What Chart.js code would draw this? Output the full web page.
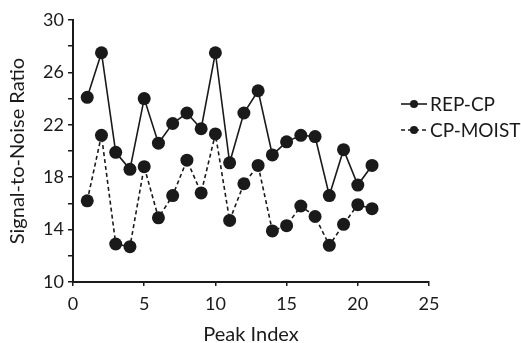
<!DOCTYPE html>
<html>
<head>
<meta charset="utf-8">
<script src="https://cdn.jsdelivr.net/npm/chart.js@4/dist/chart.umd.min.js"></script>
<style>
  html, body { margin: 0; padding: 0; background: #fff; }
  #wrap { width: 521px; height: 343px; }
</style>
</head>
<body>
<div id="wrap"><canvas id="snrChart"></canvas></div>
<script>
// peak index 1..21
const peaks = [1, 2, 3, 4, 5, 6, 7, 8, 9, 10, 11, 12, 13, 14, 15, 16, 17, 18, 19, 20, 21];
const repCp = [24.1, 27.5, 19.9, 18.6, 24.0, 20.6, 22.1, 22.9, 21.7, 27.5, 19.1, 22.9, 24.6, 19.7, 20.7, 21.2, 21.1, 16.6, 20.1, 17.4, 18.9];
const cpMoist = [16.2, 21.2, 12.9, 12.7, 18.8, 14.9, 16.6, 19.3, 16.8, 21.3, 14.7, 17.5, 18.9, 13.9, 14.3, 15.8, 15.0, 12.8, 14.4, 15.9, 15.6];
const seriesNames = ['REP-CP', 'CP-MOIST'];
const yLabelTicks = [10, 14, 18, 22, 26, 30];

const FONT = "Lato, 'Open Sans', sans-serif";
const INK = '#1a1a1a';

// legend drawn by hand: short line + dot, then the name
const lineLegend = {
    id: 'lineLegend',
    afterDraw(chart) {
        const ctx = chart.ctx;
        const area = chart.chartArea;
        const x0 = area.right - 28;
        let y = area.top + 84;
        chart.data.datasets.forEach(ds => {
            ctx.save();
            ctx.strokeStyle = INK;
            ctx.lineWidth = 1.6;
            ctx.setLineDash(ds.borderDash || []);
            ctx.beginPath();
            ctx.moveTo(x0, y);
            ctx.lineTo(x0 + 26, y);
            ctx.stroke();
            ctx.setLineDash([]);
            ctx.fillStyle = INK;
            ctx.beginPath();
            ctx.arc(x0 + 13, y, 4, 0, Math.PI * 2);
            ctx.fill();
            ctx.font = '19px ' + FONT;
            ctx.textBaseline = 'middle';
            ctx.fillText(ds.label, x0 + 29, y + 1);
            ctx.restore();
            y += 26;
        });
    }
};

new Chart(document.getElementById('snrChart'), {
    type: 'line',
    data: {
        datasets: [
            {
                label: seriesNames[0],
                data: peaks.map((p, i) => ({ x: p, y: repCp[i] })),
                borderColor: INK,
                backgroundColor: INK,
                borderWidth: 1.6,
                pointRadius: 6.5,
                pointBorderWidth: 0,
                tension: 0
            },
            {
                label: seriesNames[1],
                data: peaks.map((p, i) => ({ x: p, y: cpMoist[i] })),
                borderColor: INK,
                backgroundColor: INK,
                borderWidth: 1.6,
                borderDash: [4, 3],
                pointRadius: 6.5,
                pointBorderWidth: 0,
                tension: 0
            }
        ]
    },
    options: {
        responsive: true,
        maintainAspectRatio: false,
        animation: false,
        layout: { padding: { top: 20, right: 92, left: 0, bottom: 0 } },
        plugins: { legend: { display: false }, tooltip: { enabled: false } },
        scales: {
            x: {
                type: 'linear',
                min: 0,
                max: 25,
                ticks: { stepSize: 5, color: INK, font: { family: FONT, size: 18 }, padding: 7 },
                grid: { drawOnChartArea: false, tickLength: 4, color: INK, lineWidth: 1.5 },
                border: { color: INK, width: 2 },
                title: { display: true, text: 'Peak Index', color: INK, font: { family: FONT, size: 20 }, padding: { top: 4, bottom: -4 } },
                afterFit: scale => { scale.height = 61; }
            },
            y: {
                min: 10,
                max: 30,
                ticks: {
                    stepSize: 2,
                    color: INK,
                    font: { family: FONT, size: 18 },
                    padding: 4,
                    autoSkip: false,
                    callback: v => yLabelTicks.includes(v) ? v : ''
                },
                grid: { drawOnChartArea: false, tickLength: 5, color: INK, lineWidth: 1.5 },
                border: { color: INK, width: 2 },
                title: { display: true, text: 'Signal-to-Noise Ratio', color: INK, font: { family: FONT, size: 20 }, padding: { top: 6, bottom: 2 } },
                afterFit: scale => { scale.width = 73; }
            }
        }
    },
    plugins: [lineLegend]
});
</script>
</body>
</html>
